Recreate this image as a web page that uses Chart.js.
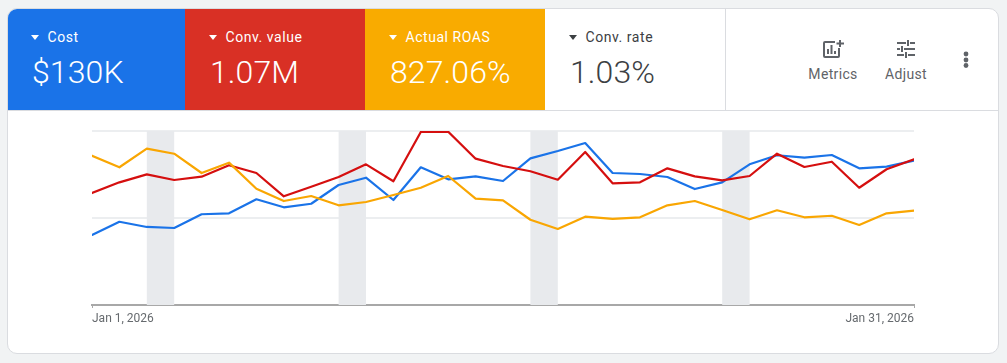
<!DOCTYPE html>
<html>
<head>
<meta charset="utf-8">
<title>Campaign overview</title>
<script src="https://cdn.jsdelivr.net/npm/chart.js@4"></script>
<style>
  html, body { margin: 0; padding: 0; width: 1007px; height: 363px; overflow: hidden; background: #f1f3f4; font-family: Roboto, sans-serif; }
  #card { position: absolute; left: 7px; top: 8px; width: 990px; height: 344px; background: #fff; border: 1px solid #dadce0; border-radius: 10px; }
  .tile { position: absolute; top: 0; height: 101px; color: #fff; }
  .tile .name { position: absolute; left: 39.5px; top: 19px; font-size: 14px; line-height: 18px; letter-spacing: .55px; white-space: nowrap; font-weight: 400; }
  .tile .num { position: absolute; left: 24px; top: 43px; font-size: 32px; line-height: 40px; white-space: nowrap; font-weight: 300; letter-spacing: .1px; }
  .tile .arrow { position: absolute; left: 23px; top: 26px; width: 0; height: 0; border-left: 4.5px solid transparent; border-right: 4.5px solid transparent; border-top: 5px solid currentColor; }
  #t2 > *, #t3 > *, #t4 > * { margin-left: 1px; }
  #t1 { left: 0; width: 177px; background: #1a73e8; border-top-left-radius: 9px; }
  #t2 { left: 177px; width: 180px; background: #d93025; }
  #t3 { left: 357px; width: 180px; background: #f9ab00; }
  #t4 { left: 537px; width: 180px; color: #3c4043; }
  #divider { position: absolute; left: 717px; top: 0; width: 1px; height: 101px; background: #dadce0; }
  #rule { position: absolute; left: 0; top: 101px; width: 990px; height: 1px; background: #dadce0; }
  .tool { position: absolute; top: 57px; font-size: 14px; line-height: 16px; letter-spacing: .35px; color: #5f6368; transform: translateX(-50%); white-space: nowrap; }
  .icon { position: absolute; }
  #chart-box { position: absolute; left: 1px; top: 102px; width: 989px; height: 240px; }
</style>
</head>
<body>
<div id="card">
  <div class="tile" id="t1"><div class="arrow"></div><div class="name">Cost</div><div class="num">$130K</div></div>
  <div class="tile" id="t2"><div class="arrow"></div><div class="name">Conv. value</div><div class="num">1.07M</div></div>
  <div class="tile" id="t3"><div class="arrow"></div><div class="name">Actual ROAS</div><div class="num">827.06%</div></div>
  <div class="tile" id="t4"><div class="arrow"></div><div class="name">Conv. rate</div><div class="num">1.03%</div></div>
  <div id="divider"></div>
  <div id="rule"></div>

  <svg class="icon" style="left:815px;top:31px" width="21" height="18" viewBox="0 0 21 18" fill="none" stroke="#5f6368" stroke-width="2">
    <path d="M12 2H2a1 1 0 0 0-1 1v13a1 1 0 0 0 1 1h13a1 1 0 0 0 1-1V8"/>
    <path d="M5 14V9M8.5 14V5M12 14v-3M17 0v7M13.5 3.5H21"/>
  </svg>
  <div class="tool" style="left:825px">Metrics</div>

  <svg class="icon" style="left:889px;top:31px" width="18" height="18" viewBox="0 0 18 18" fill="none" stroke="#5f6368" stroke-width="2">
    <path d="M0 3h9M13 3h5M11 0v6M0 9h3M7 9h11M5 6v6M0 15h7M11 15h7M9 12v6"/>
  </svg>
  <div class="tool" style="left:898px">Adjust</div>

  <svg class="icon" style="left:954px;top:41px" width="8" height="20" viewBox="0 0 8 20" fill="#5f6368">
    <circle cx="4" cy="4" r="2.4"/><circle cx="4" cy="10" r="2.4"/><circle cx="4" cy="15.5" r="2.4"/>
  </svg>

  <div id="chart-box"><canvas id="myChart"></canvas></div>
</div>

<script>
// values are read off the picture, y axis has no labels so they are on a 0-200 index
const days = [0,1,2,3,4,5,6,7,8,9,10,11,12,13,14,15,16,17,18,19,20,21,22,23,24,25,26,27,28,29,30];
const tick_days = [0, 30];
const tick_labels = ["Jan 1, 2026", "Jan 31, 2026"];
const weekend_starts = [2, 9, 16, 23];

const cost = [80.5,95.7,89.7,88.5,104.3,105.4,121.5,112.3,116.4,137.9,146.3,120.7,158.3,144.5,147.9,142.5,168.6,177,186.2,151.7,150.6,147.1,133.3,141,161.7,172.1,169.3,172.4,157.1,159,165.9];
const conv_value = [128.7,141,150.2,143.7,147.5,160.6,151.7,124.9,136,147.1,161.7,142.2,198.9,199.2,168.2,159.8,153.7,144,175.9,139.9,141,157.1,147.9,143.3,148.3,173.9,158.6,164.7,134.8,156,167.5];
const actual_roas = [171.6,158.3,179.7,173.9,151.7,163.6,133.7,119.5,125.3,114.6,118.4,126.4,134.8,148.3,122.2,120.3,98,87.4,101.5,98.9,100.8,114.6,119.5,109.2,98.5,108.9,100.8,102.6,92,105.4,108.4];

const toPoints = (values) => values.map((v, i) => ({x: days[i], y: v}));

// grey columns behind the lines for the weekends
const weekendBands = {
  id: "weekendBands",
  beforeDatasetsDraw(chart) {
    const {ctx, chartArea, scales} = chart;
    ctx.save();
    ctx.fillStyle = "#e8eaed";
    weekend_starts.forEach((d) => {
      const left = scales.x.getPixelForValue(d);
      const right = scales.x.getPixelForValue(d + 1);
      ctx.fillRect(left, chartArea.top, right - left, chartArea.bottom - chartArea.top);
    });
    ctx.restore();
  }
};

new Chart(document.getElementById("myChart"), {
  type: "line",
  plugins: [weekendBands],
  data: {
    datasets: [
      {label: "Actual ROAS", data: toPoints(actual_roas), borderColor: "#f9a602"},
      {label: "Conv. value", data: toPoints(conv_value), borderColor: "#d50f0f"},
      {label: "Cost", data: toPoints(cost), borderColor: "#1a73e8"}
    ]
  },
  options: {
    responsive: true,
    maintainAspectRatio: false,
    animation: false,
    layout: {padding: {left: 83, right: 84, top: 20, bottom: 0}},
    elements: {
      line: {borderWidth: 2.2, tension: 0, borderCapStyle: "round", borderJoinStyle: "round"},
      point: {radius: 0}
    },
    plugins: {legend: {display: false}, tooltip: {enabled: false}},
    scales: {
      x: {
        type: "linear",
        min: 0,
        max: 30,
        afterBuildTicks: (scale) => { scale.ticks = tick_days.map((d) => ({value: d})); },
        afterFit: (scale) => { scale.height = 46; },
        grid: {drawOnChartArea: false, color: "#a8a8a8", tickLength: 3, lineWidth: 1},
        border: {display: true, color: "#a8a8a8", width: 2},
        ticks: {
          align: "inner",
          maxRotation: 0,
          padding: 4,
          color: "#666a6e",
          font: {family: "Roboto", size: 12},
          callback: (value) => tick_labels[tick_days.indexOf(value)]
        }
      },
      y: {
        min: 0,
        max: 200,
        afterBuildTicks: (scale) => { scale.ticks = [{value: 0}, {value: 100}, {value: 200}]; },
        afterFit: (scale) => { scale.width = 0; },
        grid: {color: "#eceef0", lineWidth: 2, drawTicks: false},
        border: {display: false},
        ticks: {display: false}
      }
    }
  }
});
</script>
</body>
</html>
